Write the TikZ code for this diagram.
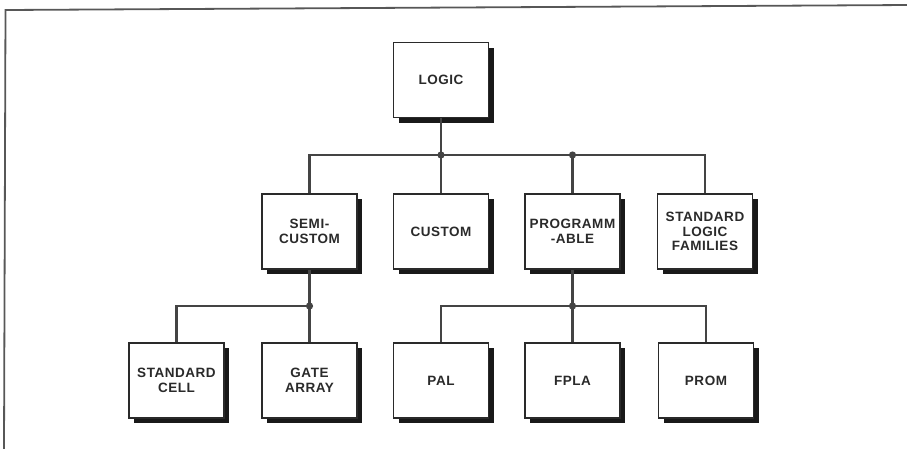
\documentclass[tikz,border=0pt]{standalone}
\usepackage{fontspec}
\setmainfont{Liberation Sans}[LetterSpace=4]
\usetikzlibrary{shadows}
\definecolor{ink}{HTML}{2A2A2A}
\definecolor{wire}{HTML}{444444}
\begin{document}
\begin{tikzpicture}[x=1pt,y=-1pt,
  box/.style={draw=ink, line width=1.6pt, fill=white, minimum width=95pt, minimum height=75pt,
    inner sep=2pt, align=center, text=ink,
    font=\bfseries\fontsize{13.5}{14.5}\selectfont,
    general shadow={fill=black!90, shadow xshift=5pt, shadow yshift=-5pt}},
  wireline/.style={draw=wire, line width=2.4pt},
  frameline/.style={draw=wire!90, line width=1.8pt},
  jdot/.style={fill=wire}]
\useasboundingbox (0,0) rectangle (907,448);
% frame
\coordinate (fbl) at (4,450);
\coordinate (ftl) at (5.5,10);
\coordinate (ftr) at (909,5);
\draw[frameline] (fbl) -- (ftl) -- (ftr);
% boxes
\node[box] (logic)  at (441,80)    {LOGIC};
\node[box] (semi)   at (309.5,231.5) {SEMI-\\CUSTOM};
\node[box] (custom) at (441,231.5)   {CUSTOM};
\node[box] (prog)   at (572.5,231.5) {PROGRAMM\\-ABLE};
\node[box] (slf)    at (705,231.5)   {STANDARD\\LOGIC\\FAMILIES};
\node[box] (cell)   at (176.5,380.5) {STANDARD\\CELL};
\node[box] (gate)   at (309.5,380.5) {GATE\\ARRAY};
\node[box] (pal)    at (441,380.5)   {PAL};
\node[box] (fpla)   at (572.5,380.5) {FPLA};
\node[box] (prom)   at (706,380.5)   {PROM};
% junctions
\coordinate (j1) at (441,155);
\coordinate (j2) at (572.5,155);
\coordinate (j3) at (309.5,306);
\coordinate (j4) at (572.5,306);
% connectors
\draw[wireline] (logic.south) -- (j1);
\draw[wireline] (semi.north) |- (j1) -| (slf.north);
\draw[wireline] (custom.north) -- (j1);
\draw[wireline] (prog.north) -- (j2);
\draw[wireline] (semi.south) -- (j3);
\draw[wireline] (cell.north) |- (j3);
\draw[wireline] (gate.north) -- (j3);
\draw[wireline] (prog.south) -- (j4);
\draw[wireline] (pal.north) |- (j4) -| (prom.north);
\draw[wireline] (fpla.north) -- (j4);
\foreach \j in {j1,j2,j3,j4} \fill[jdot] (\j) circle (3.6pt);
\end{tikzpicture}
\end{document}
